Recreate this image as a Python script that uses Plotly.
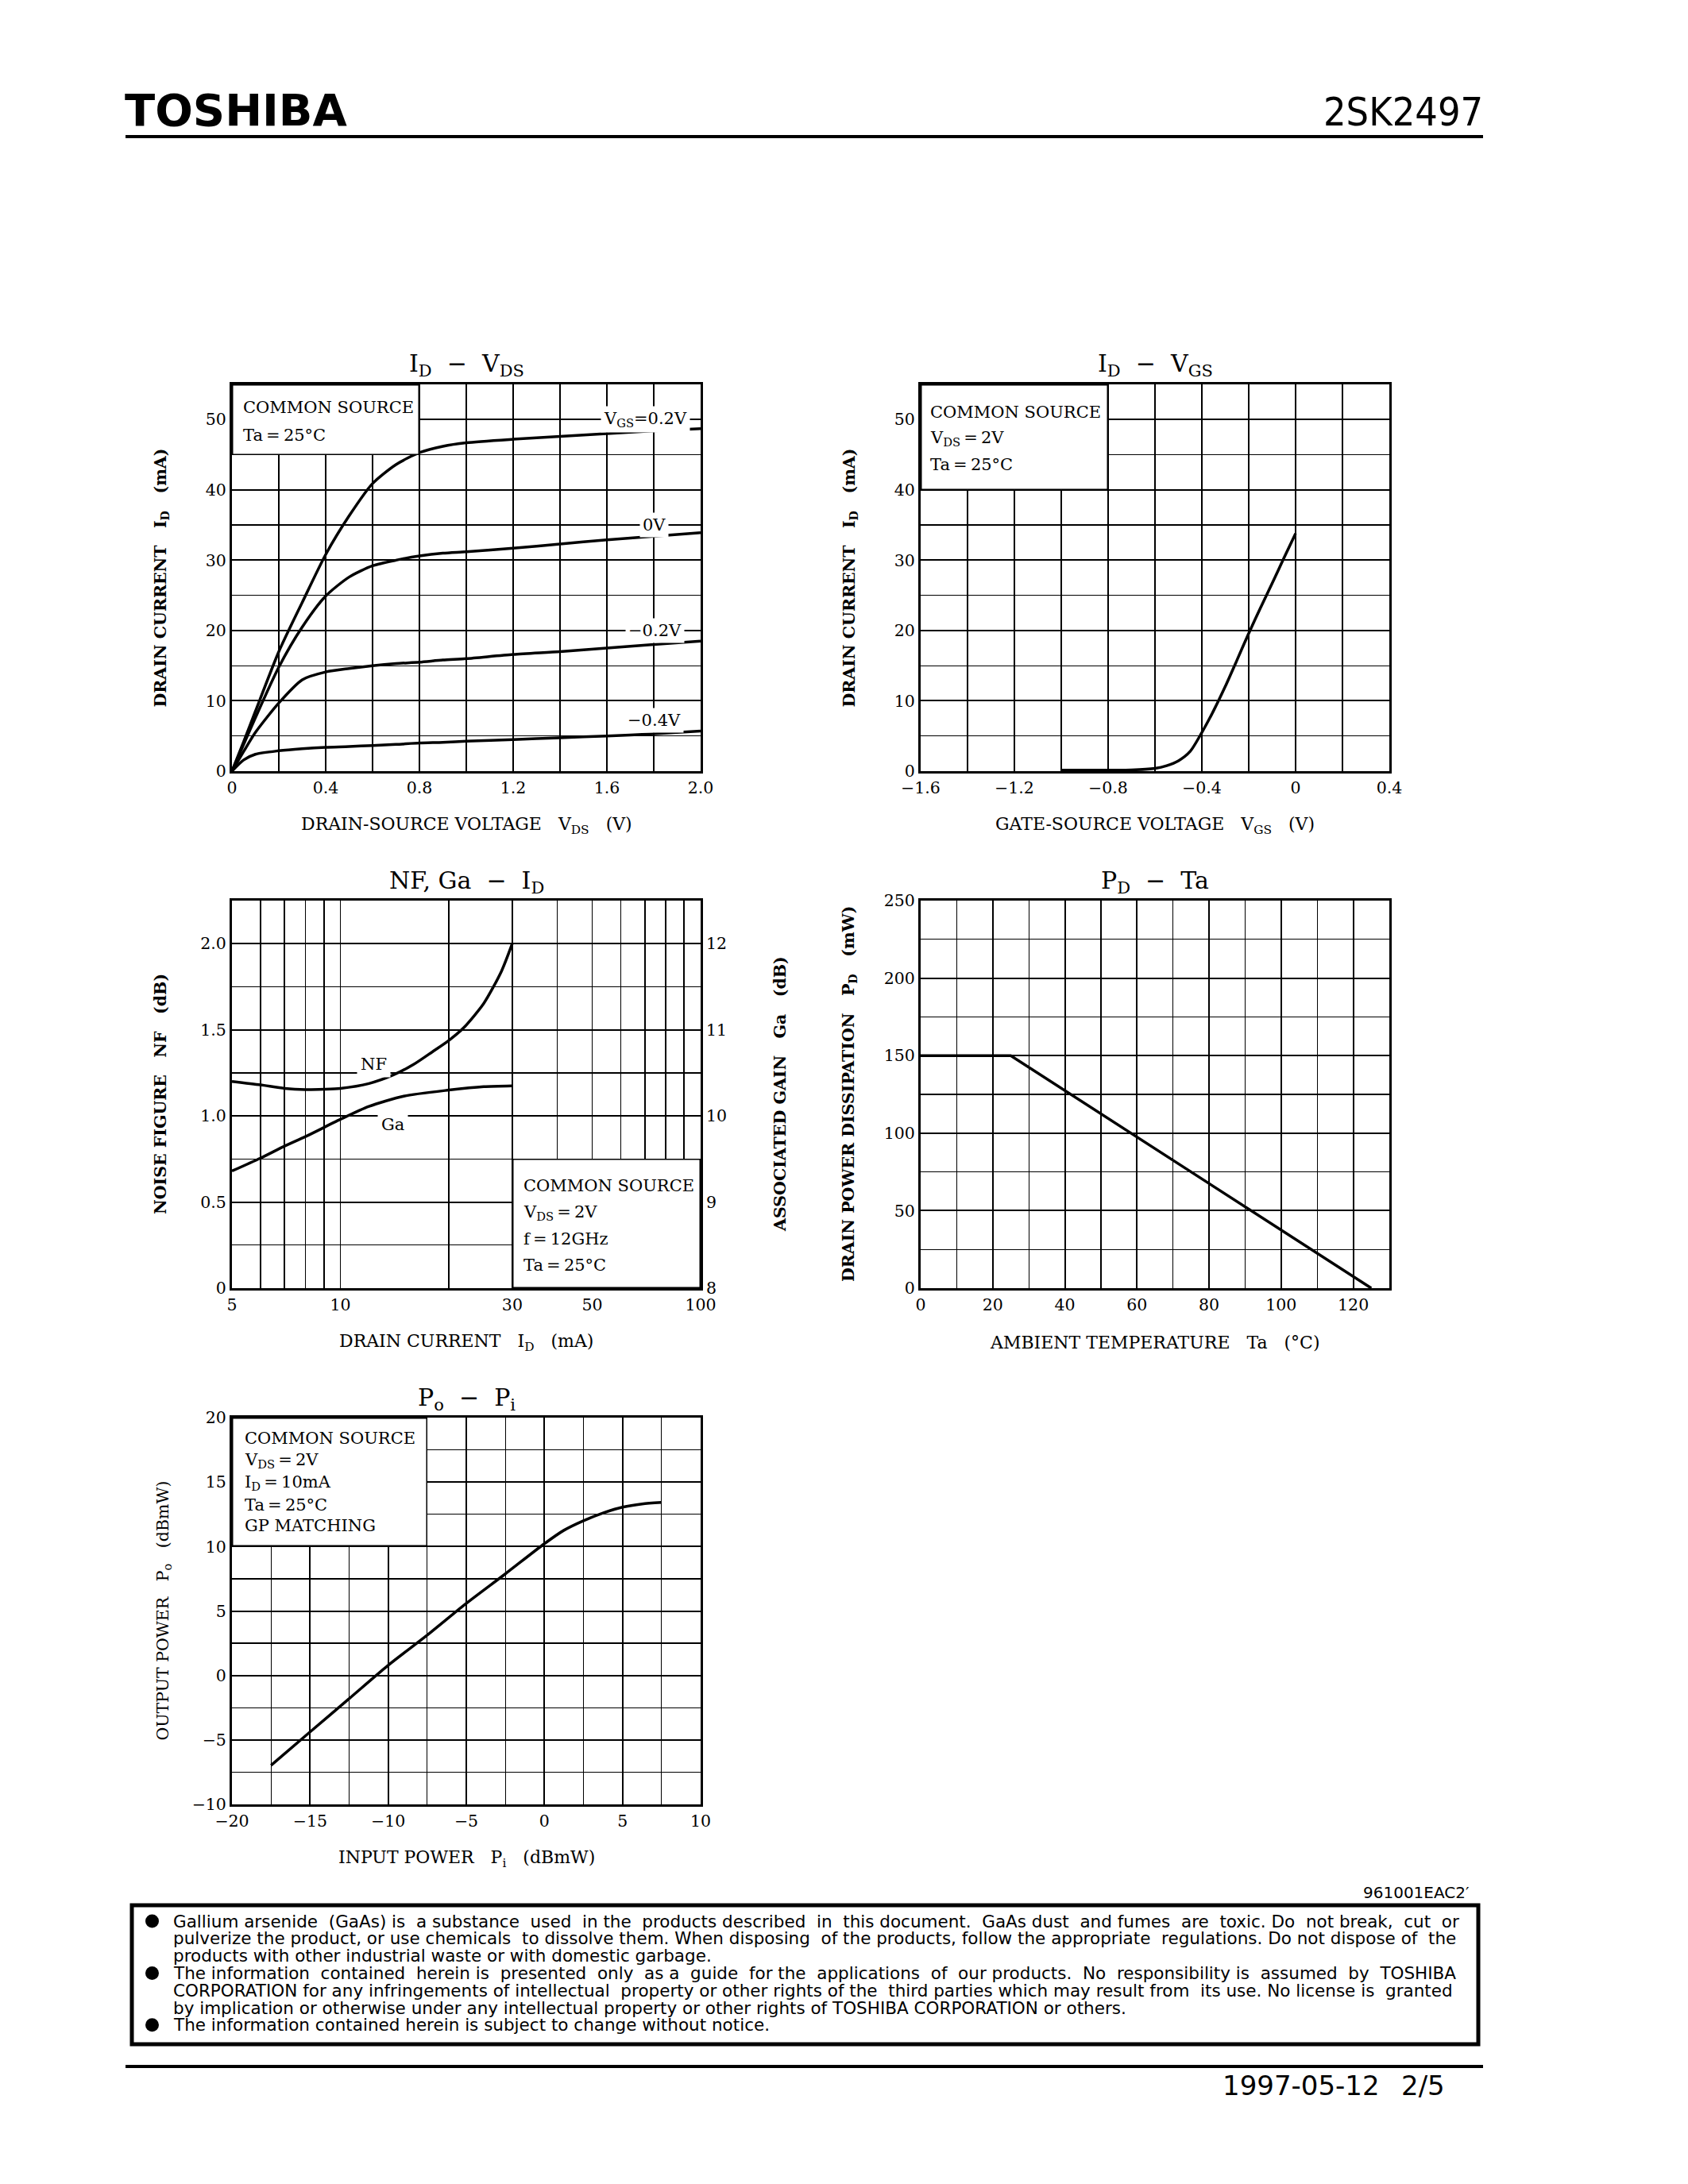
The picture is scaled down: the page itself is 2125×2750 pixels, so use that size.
import numpy as np
import plotly.graph_objects as go

# ---------------- data ----------------
# I_D - V_DS  (drain current in mA vs drain-source voltage in V)
vds = [0, 0.05, 0.1, 0.2, 0.3, 0.4, 0.5, 0.6, 0.7, 0.8, 0.9, 1.0, 1.2, 1.4, 1.6, 1.8, 2.0]
id_vgs_p02 = [0, 4.2, 8.5, 17.0, 24.0, 30.8, 36.3, 40.9, 43.6, 45.3, 46.2, 46.7, 47.2, 47.6, 48.0, 48.4, 48.7]
id_vgs_0 = [0, 3.8, 7.6, 14.8, 20.5, 24.9, 27.6, 29.2, 30.0, 30.6, 31.0, 31.2, 31.7, 32.3, 32.9, 33.4, 33.9]
id_vgs_m02 = [0, 2.8, 5.5, 9.7, 13.0, 14.1, 14.6, 15.0, 15.3, 15.5, 15.8, 16.0, 16.6, 17.0, 17.5, 18.0, 18.5]
id_vgs_m04 = [0, 1.6, 2.4, 2.9, 3.2, 3.4, 3.5, 3.65, 3.8, 4.0, 4.1, 4.25, 4.5, 4.75, 5.0, 5.3, 5.7]
vds_curve_labels = ["V<sub>GS</sub>=0.2V", "0V", "\u22120.2V", "\u22120.4V"]
vds_label_x = [1.765, 1.80, 1.805, 1.80]
vds_label_y = [50, 35, 20, 7.2]

# I_D - V_GS
vgs = [-1.0, -0.8, -0.7, -0.6, -0.55, -0.5, -0.45, -0.4, -0.35, -0.3, -0.25, -0.2, -0.15, -0.1, -0.05, 0]
id_vs_vgs = [0.15, 0.15, 0.17, 0.4, 0.78, 1.47, 2.8, 5.5, 8.6, 12.05, 15.8, 19.6, 23.2, 26.7, 30.3, 33.8]

# NF, Ga - I_D
id_nf = [5, 6, 7, 8, 9, 10, 12, 14, 16, 18, 20, 22, 25, 28, 30]
nf_db = [1.20, 1.18, 1.16, 1.153, 1.155, 1.16, 1.188, 1.237, 1.30, 1.372, 1.438, 1.512, 1.653, 1.84, 2.0]
id_ga = [5, 6, 7, 8, 10, 12, 15, 20, 25, 30]
ga_db = [9.36, 9.51, 9.65, 9.76, 9.96, 10.11, 10.23, 10.30, 10.34, 10.35]

# P_D - Ta
ta = [0, 25, 125]
pd_mw = [150, 150, 0]

# Po - Pi
pi_dbm = [-17.5, -15, -12.5, -10, -7.5, -5, -2.5, 0, 1.25, 2.5, 3.75, 5, 6.25, 7.5]
po_dbm = [-6.97, -4.38, -1.8, 0.79, 3.13, 5.59, 7.88, 10.22, 11.26, 12.0, 12.6, 13.05, 13.3, 13.42]

# tick labels
t1x_vals = [0, 0.4, 0.8, 1.2, 1.6, 2.0]
t1x_text = ["0", "0.4", "0.8", "1.2", "1.6", "2.0"]
t1y_vals = [0, 10, 20, 30, 40, 50]
t2x_vals = [-1.6, -1.2, -0.8, -0.4, 0, 0.4]
t2x_text = ["\u22121.6", "\u22121.2", "\u22120.8", "\u22120.4", "0", "0.4"]
t3x_vals = [5, 6, 7, 8, 9, 10, 20, 30, 40, 50, 60, 70, 80, 90, 100]
t3x_text = ["5", "", "", "", "", "10", "", "30", "", "50", "", "", "", "", "100"]
t3y_vals = [0, 0.5, 1.0, 1.5, 2.0]
t3y_text = ["0", "0.5", "1.0", "1.5", "2.0"]
t3y2_vals = [8, 9, 10, 11, 12]
t4x_vals = [0, 20, 40, 60, 80, 100, 120]
t4y_vals = [0, 50, 100, 150, 200, 250]
t5x_vals = [-20, -15, -10, -5, 0, 5, 10]
t5x_text = ["\u221220", "\u221215", "\u221210", "\u22125", "0", "5", "10"]
t5y_vals = [-10, -5, 0, 5, 10, 15, 20]
t5y_text = ["\u221210", "\u22125", "0", "5", "10", "15", "20"]

box1_lines = ["COMMON SOURCE", "Ta\u2009=\u200925\u00b0C"]
box2_lines = ["COMMON SOURCE", "V<sub>DS</sub>\u2009=\u20092V", "Ta\u2009=\u200925\u00b0C"]
box3_lines = ["COMMON SOURCE", "V<sub>DS</sub>\u2009=\u20092V", "f\u2009=\u200912GHz", "Ta\u2009=\u200925\u00b0C"]
box5_lines = ["COMMON SOURCE", "V<sub>DS</sub>\u2009=\u20092V", "I<sub>D</sub>\u2009=\u200910mA",
              "Ta\u2009=\u200925\u00b0C", "GP MATCHING"]

footer_lines = [
    "Gallium arsenide (GaAs) is a substance used in the products described in this document. GaAs dust and fumes are toxic. Do not break, cut or",
    "pulverize the product, or use chemicals to dissolve them. When disposing of the products, follow the appropriate regulations. Do not dispose of the",
    "products with other industrial waste or with domestic garbage.",
    "The information contained herein is presented only as a guide for the applications of our products. No responsibility is assumed by TOSHIBA",
    "CORPORATION for any infringements of intellectual property or other rights of the third parties which may result from its use. No license is granted",
    "by implication or otherwise under any intellectual property or other rights of TOSHIBA CORPORATION or others.",
    "The information contained herein is subject to change without notice.",
]
footer_justified = [True, True, False, True, True, False, False]
bullet_line_index = [0, 3, 6]

# ---------------- layout helpers ----------------
PAGE_W, PAGE_H = 2125, 2750
BODY_MARGIN = 8                      # default browser body margin around the figure div
W, H = PAGE_W - 2 * BODY_MARGIN, PAGE_H - 2 * BODY_MARGIN
SERIF = "DejaVu Serif"
SANS = "DejaVu Sans"


def fx(p):
    return (p - BODY_MARGIN) / W


def fy(p):
    return 1 - (p - BODY_MARGIN) / H


col1 = (292, 882)
col2 = (1159, 1749)
row1 = (484, 971)
row2 = (1134, 1622)
row3 = (1785, 2272)


def xdom(c):
    return [fx(c[0]), fx(c[1])]


def ydom(r):
    return [fy(r[1]), fy(r[0])]


def axis(**kw):
    d = dict(showline=True, mirror=True, linecolor="black", linewidth=3,
             showgrid=True, gridcolor="black", gridwidth=2, zeroline=False,
             ticks="", fixedrange=True, automargin=False,
             tickfont=dict(family=SERIF, size=20.5, color="black"))
    d.update(kw)
    return d


def minor(dt):
    return dict(dtick=dt, tick0=0, showgrid=True, gridcolor="black", gridwidth=1.3, ticks="")


fig = go.Figure()
LW = 3.5
line = dict(color="black", width=LW, shape="spline", smoothing=0.7)

for ys in (id_vgs_p02, id_vgs_0, id_vgs_m02, id_vgs_m04):
    fig.add_trace(go.Scatter(x=vds, y=ys, mode="lines", line=line, xaxis="x", yaxis="y",
                             hoverinfo="skip"))
fig.add_trace(go.Scatter(x=vgs, y=id_vs_vgs, mode="lines", line=line, xaxis="x2", yaxis="y2",
                         hoverinfo="skip"))
fig.add_trace(go.Scatter(x=id_nf, y=nf_db, mode="lines", line=line, xaxis="x3", yaxis="y3",
                         hoverinfo="skip"))
fig.add_trace(go.Scatter(x=id_ga, y=ga_db, mode="lines", line=line, xaxis="x3", yaxis="y6",
                         hoverinfo="skip"))
fig.add_trace(go.Scatter(x=ta, y=pd_mw, mode="lines", line=dict(color="black", width=LW),
                         xaxis="x4", yaxis="y4", hoverinfo="skip"))
fig.add_trace(go.Scatter(x=pi_dbm, y=po_dbm, mode="lines", line=line, xaxis="x5", yaxis="y5",
                         hoverinfo="skip"))

fig.update_layout(
    width=W, height=H, margin=dict(l=0, r=0, t=0, b=0, pad=0, autoexpand=False), autosize=False,
    paper_bgcolor="white", plot_bgcolor="white", showlegend=False,
    xaxis=axis(domain=xdom(col1), anchor="y", range=[0, 2.0], tickmode="array",
               tickvals=t1x_vals, ticktext=t1x_text, minor=minor(0.2)),
    yaxis=axis(domain=ydom(row1), anchor="x", range=[0, 55], tickmode="array",
               tickvals=t1y_vals, minor=minor(5)),
    xaxis2=axis(domain=xdom(col2), anchor="y2", range=[-1.6, 0.4], tickmode="array",
                tickvals=t2x_vals, ticktext=t2x_text, minor=minor(0.2)),
    yaxis2=axis(domain=ydom(row1), anchor="x2", range=[0, 55], tickmode="array",
                tickvals=t1y_vals, minor=minor(5)),
    xaxis3=axis(domain=xdom(col1), anchor="y3", type="log",
                range=[np.log10(5), np.log10(100)], tickmode="array",
                tickvals=t3x_vals, ticktext=t3x_text, gridwidth=1.6),
    yaxis3=axis(domain=ydom(row2), anchor="x3", range=[0, 2.25], tickmode="array",
                tickvals=t3y_vals, ticktext=t3y_text, minor=minor(0.25)),
    yaxis6=axis(anchor="x3", overlaying="y3", side="right", range=[8, 12.5],
                tickmode="array", tickvals=t3y2_vals, showgrid=False, showline=False,
                ticklabelstandoff=6),
    xaxis4=axis(domain=xdom(col2), anchor="y4", range=[0, 130], tickmode="array",
                tickvals=t4x_vals, minor=minor(10)),
    yaxis4=axis(domain=ydom(row2), anchor="x4", range=[0, 250], tickmode="array",
                tickvals=t4y_vals, minor=minor(25)),
    xaxis5=axis(domain=xdom(col1), anchor="y5", range=[-20, 10], tickmode="array",
                tickvals=t5x_vals, ticktext=t5x_text, minor=minor(2.5)),
    yaxis5=axis(domain=ydom(row3), anchor="x5", range=[-10, 20], tickmode="array",
                tickvals=t5y_vals, ticktext=t5y_text, minor=minor(2.5)),
)

# header / footer rules and frame
shapes = []
shapes.append(dict(type="line", xref="paper", yref="paper", x0=fx(158), x1=fx(1867),
                   y0=fy(172), y1=fy(172), line=dict(color="black", width=4)))
shapes.append(dict(type="line", xref="paper", yref="paper", x0=fx(158), x1=fx(1867),
                   y0=fy(2602), y1=fy(2602), line=dict(color="black", width=4)))
shapes.append(dict(type="rect", xref="paper", yref="paper", x0=fx(166), x1=fx(1861),
                   y0=fy(2574), y1=fy(2399), line=dict(color="black", width=5)))
LINE0, LSTEP = 2419, 21.8
for i in bullet_line_index:
    cy = LINE0 + LSTEP * i
    shapes.append(dict(type="circle", xref="paper", yref="paper", x0=fx(183), x1=fx(200),
                       y0=fy(cy + 8.5), y1=fy(cy - 8.5), fillcolor="black",
                       line=dict(color="black", width=0)))
fig.update_layout(shapes=shapes)

anns = []


def ann(text, x, y, xref="paper", yref="paper", size=21, family=SERIF, xanchor="center",
        yanchor="middle", angle=0, bg=None, pad=1):
    d = dict(text=text, x=x, y=y, xref=xref, yref=yref, showarrow=False,
             font=dict(family=family, size=size, color="black"),
             xanchor=xanchor, yanchor=yanchor, textangle=angle, borderpad=pad)
    if bg:
        d["bgcolor"] = bg
    anns.append(d)


def white_box(xref, yref, x, y, wpx, hpx):
    # white condition panel covering the grid, anchored at its top-left corner
    anns.append(dict(text="\u00a0", x=x, y=y, xref=xref, yref=yref, showarrow=False,
                     xanchor="left", yanchor="top", width=wpx - 3, height=hpx - 3,
                     bgcolor="white", bordercolor="black", borderwidth=1.5, borderpad=0,
                     font=dict(size=8)))


pw = col1[1] - col1[0]
ph1 = row1[1] - row1[0]
ph2 = row2[1] - row2[0]
ph3 = row3[1] - row3[0]
white_box("x", "y", 0, 55, (0.8 - 0) / 2.0 * pw, (55 - 45) / 55 * ph1)
white_box("x2", "y2", -1.6, 55, (-0.8 + 1.6) / 2.0 * pw, (55 - 40) / 55 * ph1)
frac30 = np.log10(30 / 5) / np.log10(100 / 5)
white_box("x3", "y3", np.log10(30), 0.75, (1 - frac30) * pw, 0.75 / 2.25 * ph2)
white_box("x5", "y5", -20, 20, (-7.5 + 20) / 30 * pw, (20 - 10) / 30 * ph3)

NB = "\u00a0"
titles = [
    ("I<sub>D</sub>" + NB * 2 + "\u2212" + NB * 2 + "V<sub>DS</sub>", col1, row1),
    ("I<sub>D</sub>" + NB * 2 + "\u2212" + NB * 2 + "V<sub>GS</sub>", col2, row1),
    ("NF, Ga" + NB * 2 + "\u2212" + NB * 2 + "I<sub>D</sub>", col1, row2),
    ("P<sub>D</sub>" + NB * 2 + "\u2212" + NB * 2 + "Ta", col2, row2),
    ("P<sub>o</sub>" + NB * 2 + "\u2212" + NB * 2 + "P<sub>i</sub>", col1, row3),
]
for t, c, r in titles:
    ann(t, fx((c[0] + c[1]) / 2), fy(r[0] - 24), size=30)

xtitles = [
    ("DRAIN-SOURCE VOLTAGE" + NB * 3 + "V<sub>DS</sub>" + NB * 3 + "(V)", col1, row1),
    ("GATE-SOURCE VOLTAGE" + NB * 3 + "V<sub>GS</sub>" + NB * 3 + "(V)", col2, row1),
    ("DRAIN CURRENT" + NB * 3 + "I<sub>D</sub>" + NB * 3 + "(mA)", col1, row2),
    ("AMBIENT TEMPERATURE" + NB * 3 + "Ta" + NB * 3 + "(\u00b0C)", col2, row2),
    ("INPUT POWER" + NB * 3 + "P<sub>i</sub>" + NB * 3 + "(dBmW)", col1, row3),
]
for t, c, r in xtitles:
    ann(t, fx((c[0] + c[1]) / 2), fy(r[1] + 68), size=22)

ytitles = [
    ("<b>DRAIN CURRENT" + NB * 3 + "I<sub>D</sub>" + NB * 3 + "(mA)</b>", col1[0] - 90, row1),
    ("<b>DRAIN CURRENT" + NB * 3 + "I<sub>D</sub>" + NB * 3 + "(mA)</b>", col2[0] - 90, row1),
    ("<b>NOISE FIGURE" + NB * 3 + "NF" + NB * 3 + "(dB)</b>", col1[0] - 90, row2),
    ("<b>ASSOCIATED GAIN" + NB * 3 + "Ga" + NB * 3 + "(dB)</b>", col1[1] + 100, row2),
    ("<b>DRAIN POWER DISSIPATION" + NB * 3 + "P<sub>D</sub>" + NB * 3 + "(mW)</b>", col2[0] - 90, row2),
    ("OUTPUT POWER" + NB * 3 + "P<sub>o</sub>" + NB * 3 + "(dBmW)", col1[0] - 87, row3),
]
for t, xp, r in ytitles:
    ann(t, fx(xp), fy((r[0] + r[1]) / 2), size=20.5, angle=-90)

for t, x, y in zip(vds_curve_labels, vds_label_x, vds_label_y):
    ann(t, x, y, xref="x", yref="y", size=21, bg="white", pad=3)

ann("NF", np.log10(12.4), 1.30, xref="x3", yref="y3", size=21, bg="white", pad=4)
ann("Ga", np.log10(14.0), 0.95, xref="x3", yref="y3", size=21, bg="white", pad=4)

for i, t in enumerate(box1_lines):
    ann(t, 0.04, [51.7, 47.8][i], xref="x", yref="y", size=21, xanchor="left")
for i, t in enumerate(box2_lines):
    ann(t, -1.565, [51.1, 47.3, 43.6][i], xref="x2", yref="y2", size=21, xanchor="left")
for i, t in enumerate(box3_lines):
    ann(t, np.log10(31.9), [0.594, 0.44, 0.285, 0.135][i], xref="x3", yref="y3", size=21,
        xanchor="left")
for i, t in enumerate(box5_lines):
    ann(t, -19.3, [18.4, 16.7, 14.95, 13.2, 11.6][i], xref="x5", yref="y5", size=21,
        xanchor="left")

# header
ann("<b>TOSHIBA</b>", fx(155), fy(139), size=56, family=SANS, xanchor="left")
ann("2SK2497", fx(1869), fy(141), size=50,
    family="Liberation Sans Narrow, DejaVu Sans Condensed, Liberation Sans", xanchor="right")

# footer: approximate justification by padding word gaps with no-break spaces
DV_W = {" ": .318, "(": .390, ")": .390, ",": .318, "-": .361, ".": .318, "/": .337}
DV_W.update({d: .636 for d in "0123456789"})
DV_W.update(dict(zip("ABCDEFGHIJKLMNOPQRSTUVWXYZ",
                     [.684, .686, .698, .770, .632, .575, .775, .752, .295, .295, .656, .557, .863,
                      .748, .787, .603, .787, .695, .635, .611, .732, .684, .989, .685, .611, .685])))
DV_W.update(dict(zip("abcdefghijklmnopqrstuvwxyz",
                     [.613, .635, .550, .635, .615, .352, .635, .634, .278, .278, .579, .278, .974,
                      .634, .612, .635, .635, .411, .521, .392, .634, .592, .818, .592, .592, .525])))
FOOT_SIZE = 21.5
FOOT_LEFT, FOOT_RIGHT = 216, 1834


def justify(text, size, target):
    natural = sum(DV_W.get(ch, .6) for ch in text) * size
    words = text.split(" ")
    gaps = len(words) - 1
    extra = max(0, int(round((target - natural) / (DV_W[" "] * size))))
    out = words[0]
    for k in range(gaps):
        n = extra * (k + 1) // gaps - extra * k // gaps
        out += " " + NB * n + words[k + 1]
    return out


ann("961001EAC2\u2032", fx(1852), fy(2383), size=20, family=SANS, xanchor="right")
for i, t in enumerate(footer_lines):
    txt = justify(t, FOOT_SIZE, FOOT_RIGHT - FOOT_LEFT) if footer_justified[i] else t
    ann(txt, fx(FOOT_LEFT), fy(LINE0 + LSTEP * i), size=FOOT_SIZE, family=SANS, xanchor="left")
ann("1997-05-12", fx(1537), fy(2626), size=34, family=SANS, xanchor="left")
ann("2/5", fx(1821), fy(2626), size=34, family=SANS, xanchor="right")

fig.update_layout(annotations=anns)

fig.write_html("out.html", config={"displayModeBar": False, "staticPlot": True})
